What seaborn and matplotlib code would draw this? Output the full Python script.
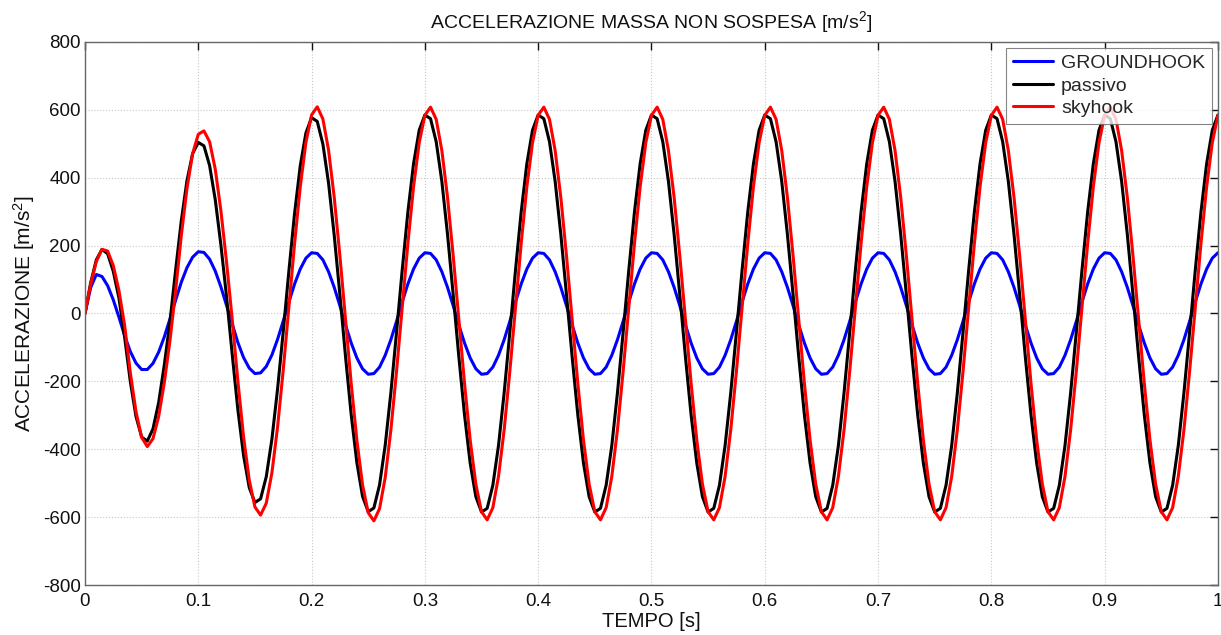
import numpy as np
import pandas as pd
import seaborn as sns
import matplotlib.pyplot as plt

# time grid (s), one sample every 5 ms
tempo = np.linspace(0, 1, 201)

# values, m/s^2
groundhook = [
    0, 76, 115, 109, 82, 40, -11, -65, -112, -146, -165, -165, -147, -114, -69, -16, 39, 92, 135, 166,
    182, 180, 160, 125, 78, 23, -33, -86, -130, -161, -177, -175, -156, -122, -76, -22, 34, 87, 131, 163,
    179, 177, 158, 123, 77, 23, -34, -87, -131, -163, -179, -177, -158, -123, -77, -23, 34, 87, 131, 163,
    179, 177, 158, 123, 77, 23, -34, -87, -131, -163, -179, -177, -158, -123, -77, -23, 34, 87, 131, 163,
    179, 177, 158, 123, 77, 23, -34, -87, -131, -163, -179, -177, -158, -123, -77, -23, 34, 87, 131, 163,
    179, 177, 158, 123, 77, 23, -34, -87, -131, -163, -179, -177, -158, -123, -77, -23, 34, 87, 131, 163,
    179, 177, 158, 123, 77, 23, -34, -87, -131, -163, -179, -177, -158, -123, -77, -23, 34, 87, 131, 163,
    179, 177, 158, 123, 77, 23, -34, -87, -131, -163, -179, -177, -158, -123, -77, -23, 34, 87, 131, 163,
    179, 177, 158, 123, 77, 23, -34, -87, -131, -163, -179, -177, -158, -123, -77, -23, 34, 87, 131, 163,
    179, 177, 158, 123, 77, 23, -34, -87, -131, -163, -179, -177, -158, -123, -77, -23, 34, 87, 131, 163,
    179,
]

passivo = [
    0, 90, 158, 189, 176, 124, 45, -70, -200, -303, -364, -376, -340, -263, -152, -24, 128, 273, 391, 471,
    504, 494, 436, 335, 201, 48, -122, -285, -419, -513, -557, -546, -481, -370, -222, -53, 126, 295, 435, 532,
    577, 566, 499, 384, 230, 55, -128, -299, -440, -539, -584, -573, -505, -388, -233, -55, 128, 299, 441, 540,
    585, 574, 506, 389, 233, 55, -128, -299, -441, -540, -585, -574, -506, -389, -233, -55, 128, 299, 441, 540,
    585, 574, 506, 389, 233, 55, -128, -299, -441, -540, -585, -574, -506, -389, -233, -55, 128, 299, 441, 540,
    585, 574, 506, 389, 233, 55, -128, -299, -441, -540, -585, -574, -506, -389, -233, -55, 128, 299, 441, 540,
    585, 574, 506, 389, 233, 55, -128, -299, -441, -540, -585, -574, -506, -389, -233, -55, 128, 299, 441, 540,
    585, 574, 506, 389, 233, 55, -128, -299, -441, -540, -585, -574, -506, -389, -233, -55, 128, 299, 441, 540,
    585, 574, 506, 389, 233, 55, -128, -299, -441, -540, -585, -574, -506, -389, -233, -55, 128, 299, 441, 540,
    585, 574, 506, 389, 233, 55, -128, -299, -441, -540, -585, -574, -506, -389, -233, -55, 128, 299, 441, 540,
    585,
]

skyhook = [
    0, 86, 153, 189, 184, 141, 67, -35, -174, -289, -365, -392, -369, -304, -204, -80, 67, 229, 368, 471,
    528, 538, 506, 425, 302, 150, -19, -201, -364, -491, -570, -594, -559, -469, -334, -166, 19, 206, 373, 504,
    585, 609, 573, 481, 342, 170, -19, -207, -374, -505, -587, -611, -575, -483, -343, -170, 19, 206, 373, 503,
    584, 608, 572, 480, 342, 170, -19, -206, -373, -503, -584, -608, -572, -480, -342, -170, 19, 206, 373, 503,
    584, 608, 572, 480, 342, 170, -19, -206, -373, -503, -584, -608, -572, -480, -342, -170, 19, 206, 373, 503,
    584, 608, 572, 480, 342, 170, -19, -206, -373, -503, -584, -608, -572, -480, -342, -170, 19, 206, 373, 503,
    584, 608, 572, 480, 342, 170, -19, -206, -373, -503, -584, -608, -572, -480, -342, -170, 19, 206, 373, 503,
    584, 608, 572, 480, 342, 170, -19, -206, -373, -503, -584, -608, -572, -480, -342, -170, 19, 206, 373, 503,
    584, 608, 572, 480, 342, 170, -19, -206, -373, -503, -584, -608, -572, -480, -342, -170, 19, 206, 373, 503,
    584, 608, 572, 480, 342, 170, -19, -206, -373, -503, -584, -608, -572, -480, -342, -170, 19, 206, 373, 503,
    584,
]

serie = ['GROUNDHOOK', 'passivo', 'skyhook']
colori = {'GROUNDHOOK': '#0000ff', 'passivo': '#000000', 'skyhook': '#ff0000'}

df = pd.concat([
    pd.DataFrame({'t': tempo, 'acc': groundhook, 'serie': 'GROUNDHOOK'}),
    pd.DataFrame({'t': tempo, 'acc': passivo, 'serie': 'passivo'}),
    pd.DataFrame({'t': tempo, 'acc': skyhook, 'serie': 'skyhook'}),
])

sns.set_style('white')
plt.rcParams['font.family'] = ['Liberation Sans', 'DejaVu Sans']
plt.rcParams['mathtext.default'] = 'regular'
plt.rcParams['axes.unicode_minus'] = False

fig = plt.figure(figsize=(12.21, 6.35), dpi=100)
ax = fig.add_axes([0.0696, 0.0787, 0.9279, 0.8552])

sns.lineplot(data=df, x='t', y='acc', hue='serie', hue_order=serie,
             palette=colori, linewidth=2.2, ax=ax, sort=False,
             solid_joinstyle='round', solid_capstyle='round')

ax.set_xlim(0, 1)
ax.set_ylim(-800, 800)
ax.set_xticks(np.arange(0, 1.01, 0.1))
ax.set_xticklabels(['0', '0.1', '0.2', '0.3', '0.4', '0.5', '0.6', '0.7', '0.8', '0.9', '1'])
ax.set_yticks(np.arange(-800, 801, 200))
ax.tick_params(direction='in', length=6, width=1, labelsize=13.5, colors='#111111',
               top=True, right=True)
ax.tick_params(axis='x', pad=6)
ax.tick_params(axis='y', pad=3)
ax.grid(True, linestyle=':', color='#c8c8c8', linewidth=0.8)
for s in ax.spines.values():
    s.set_color('#666666')
    s.set_linewidth(1.0)

ax.set_title('ACCELERAZIONE MASSA NON SOSPESA [m/s$^2$]', fontsize=14, pad=10, color='#111111')
ax.set_xlabel('TEMPO [s]', fontsize=14.5, labelpad=1, color='#111111')
ax.set_ylabel('ACCELERAZIONE [m/s$^2$]', fontsize=15, labelpad=4, color='#111111')

leg = ax.legend(loc='upper right', fontsize=14, frameon=True, fancybox=False,
                borderaxespad=0.3, handlelength=2.1, handletextpad=0.4,
                labelspacing=0.25, borderpad=0.35)
leg.get_frame().set_edgecolor('#666666')
leg.get_frame().set_linewidth(0.8)
for line in leg.get_lines():
    line.set_linewidth(2.2)

fig.savefig('out.png', dpi=100)
